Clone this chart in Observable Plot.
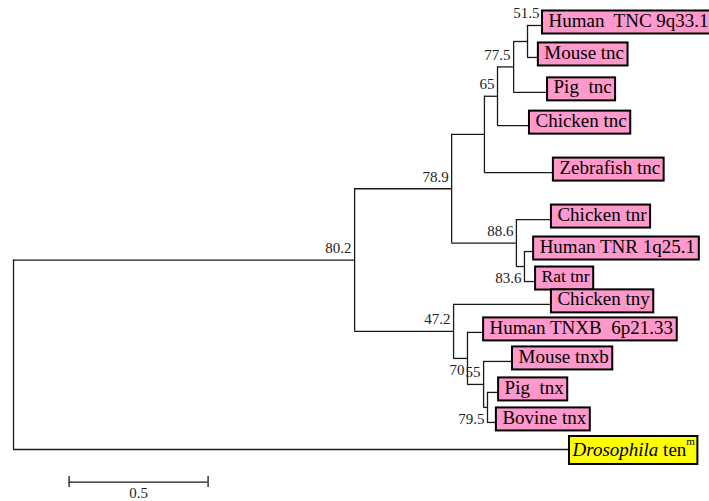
<!DOCTYPE html>
<html>
<head>
<meta charset="utf-8">
<script src="https://cdn.jsdelivr.net/npm/d3@7"></script>
<script src="https://cdn.jsdelivr.net/npm/@observablehq/plot@0.6"></script>
<style>
  html, body { margin: 0; padding: 0; background: #fff; }
  #chart svg { display: block; }
</style>
</head>
<body>
<div id="chart"></div>
<script>
// ---------- DATA ----------
// internal nodes: id, parent, distance from root (substitutions/site), bootstrap support
const nodeIds      = ["root", "n80.2", "n78.9", "nTNC", "n65", "n77.5", "n51.5", "n88.6", "n83.6", "n47.2", "n70", "n55", "n79.5"];
const nodeParents  = [null, "root", "n80.2", "n78.9", "nTNC", "n65", "n77.5", "n78.9", "n88.6", "n80.2", "n47.2", "n70", "n55"];
const nodeDepths   = [0, 1.227, 1.576, 1.694, 1.741, 1.799, 1.849, 1.809, 1.838, 1.583, 1.633, 1.691, 1.705];
const nodeSupport  = [null, "80.2", "78.9", null, "65", "77.5", "51.5", "88.6", "83.6", "47.2", "70", "55", "79.5"];

// leaves: label, parent, distance from root, row (vertical order)
const leafNames   = ["Human  TNC 9q33.1", "Mouse tnc", "Pig  tnc", "Chicken tnc", "Zebrafish tnc",
                     "Chicken tnr", "Human TNR 1q25.1", "Rat tnr", "Chicken tny", "Human TNXB  6p21.33",
                     "Mouse tnxb", "Pig  tnx", "Bovine tnx", "Drosophila"];
const leafParents = ["n51.5", "n51.5", "n77.5", "n65", "nTNC", "n88.6", "n83.6", "n83.6",
                     "n47.2", "n70", "n55", "n79.5", "n79.5", "root"];
const leafDepths  = [1.903, 1.888, 1.921, 1.856, 1.942, 1.935, 1.871, 1.878, 1.935, 1.691, 1.795, 1.745, 1.737, 2.0];
const leafRows    = [0, 0.98, 2.05, 3.07, 4.51, 5.95, 6.93, 7.85, 8.55, 9.41, 10.30, 11.25, 12.17, 13];
const outgroupSuffix = "ten";
const outgroupSup = "m";

// scale bar
const scaleBarStart = 0.2;
const scaleBarLength = 0.5;
const scaleBarLabel = "0.5";

// ---------- LAYOUT ----------
const W = 709, H = 501;
const mL = 13, mR = 1, mT = 25, mB = 52;
const xDomain = [0, 2.5], yDomain = [0, 13];
const kx = (W - mL - mR) / (xDomain[1] - xDomain[0]);
const ky = (H - mT - mB) / (yDomain[1] - yDomain[0]);
const FONT = "'Liberation Serif', 'Times New Roman', Tinos";

const ctx = document.createElement("canvas").getContext("2d");
const tw = (s, font) => { ctx.font = font; return ctx.measureText(s).width; };

const depthOf = new Map();
nodeIds.forEach((id, i) => depthOf.set(id, nodeDepths[i]));

const leaves = leafNames.map((name, i) => ({
  name, parent: leafParents[i], depth: leafDepths[i], row: leafRows[i],
  outgroup: leafParents[i] === "root",
  size: name === "Rat tnr" ? 17.5 : 19
}));

// children map
const children = new Map();
const addChild = (p, c) => { if (!children.has(p)) children.set(p, []); children.get(p).push(c); };
nodeIds.forEach((id, i) => { if (nodeParents[i]) addChild(nodeParents[i], {type: "node", id}); });
leaves.forEach(l => addChild(l.parent, {type: "leaf", leaf: l}));

const yOf = new Map();
function nodeY(id) {
  if (yOf.has(id)) return yOf.get(id);
  const ys = children.get(id).map(c => c.type === "leaf" ? c.leaf.row : nodeY(c.id));
  const y = (d3.min(ys) + d3.max(ys)) / 2;
  yOf.set(id, y);
  return y;
}
nodeIds.forEach(nodeY);

const hEdges = [], vEdges = [];
nodeIds.forEach((id, i) => {
  const ys = children.get(id).map(c => c.type === "leaf" ? c.leaf.row : yOf.get(c.id));
  vEdges.push({x: nodeDepths[i], y1: d3.min(ys), y2: d3.max(ys)});
  if (nodeParents[i]) hEdges.push({x1: depthOf.get(nodeParents[i]), x2: nodeDepths[i], y: yOf.get(id)});
});
leaves.forEach(l => hEdges.push({x1: depthOf.get(l.parent), x2: l.depth, y: l.row}));

// support labels
const placement = {"83.6": "below", "70": "below", "79.5": "below", "51.5": "top"};
const supports = [];
nodeIds.forEach((id, i) => {
  const s = nodeSupport[i];
  if (!s) return;
  const p = placement[s] || "above";
  if (p === "top") {
    const first = children.get(id).map(c => c.leaf).filter(Boolean).sort((a, b) => a.row - b.row)[0];
    supports.push({label: s, x: first.depth, y: first.row, dy: -12});
  } else {
    supports.push({label: s, x: nodeDepths[i], y: yOf.get(id), dy: p === "below" ? 12 : -12});
  }
});

// boxes
const padL = 6, padR = 4;
const supSize = 11;
const pinkLeaves = leaves.filter(l => !l.outgroup);
pinkLeaves.forEach(l => {
  l.w = tw(l.name, `${l.size}px 'Liberation Serif'`) + padL + padR;
});
const og = leaves.find(l => l.outgroup);
const ogItalicW = tw(og.name, `italic 19px 'Liberation Serif'`);
const ogSpaceW = tw(" ", `19px 'Liberation Serif'`);
const ogTenW = tw(outgroupSuffix, `19px 'Liberation Serif'`);
const ogSupW = tw(outgroupSup, `${supSize}px 'Liberation Serif'`);
og.w = 3 + ogItalicW + ogSpaceW + ogTenW + ogSupW + 3;
const ogParts = [
  {text: og.name, x: og.depth, y: og.row, dx: 3, dy: 0, size: 19, style: "italic"},
  {text: outgroupSuffix, x: og.depth, y: og.row, dx: 3 + ogItalicW + ogSpaceW, dy: 0, size: 19, style: "normal"},
  {text: outgroupSup, x: og.depth, y: og.row, dx: 3 + ogItalicW + ogSpaceW + ogTenW, dy: -8, size: supSize, style: "normal"}
];

const lineStroke = "#1a1a1a", lineW = 1.3;

const chart = Plot.plot({
  width: W, height: H,
  marginLeft: mL, marginRight: mR, marginTop: mT, marginBottom: mB,
  x: {domain: xDomain, axis: null},
  y: {domain: yDomain, reverse: true, axis: null},
  style: {background: "#fff", overflow: "visible", fontFamily: FONT},
  marks: [
    Plot.ruleY(hEdges, {x1: "x1", x2: "x2", y: "y", stroke: lineStroke, strokeWidth: lineW}),
    Plot.ruleX(vEdges, {x: "x", y1: "y1", y2: "y2", stroke: lineStroke, strokeWidth: lineW}),
    // leaf boxes
    Plot.rect(pinkLeaves, {
      x1: "depth", x2: d => d.depth + d.w / kx,
      y1: d => d.row + (-3 - 11.5) / ky, y2: d => d.row + (-3 + 11.5) / ky,
      fill: "#FF99CC", stroke: "#000", strokeWidth: 2
    }),
    Plot.rect([og], {
      x1: "depth", x2: d => d.depth + d.w / kx,
      y1: d => d.row + (1 - 14) / ky, y2: d => d.row + (1 + 14) / ky,
      fill: "#FFFF00", stroke: "#000", strokeWidth: 2
    }),
    Plot.text(pinkLeaves, {
      x: "depth", y: "row", text: "name", textAnchor: "start", dx: padL,
      dy: -5, fontSize: d => d.size, fill: "#000", fontFamily: FONT
    }),
    ...ogParts.map(p => Plot.text([p], {
      x: "x", y: "y", text: "text", textAnchor: "start", dx: p.dx, dy: p.dy,
      fontSize: p.size, fontStyle: p.style, fill: "#000", fontFamily: FONT
    })),
    // bootstrap values
    Plot.text(supports.filter(s => s.dy < 0), {
      x: "x", y: "y", text: "label", textAnchor: "end", dx: -3, dy: -12,
      fontSize: 15, fill: "#222", fontFamily: FONT
    }),
    Plot.text(supports.filter(s => s.dy > 0), {
      x: "x", y: "y", text: "label", textAnchor: "end", dx: -3, dy: 12,
      fontSize: 15, fill: "#222", fontFamily: FONT
    }),
    // scale bar
    Plot.ruleY([0], {x1: scaleBarStart, x2: scaleBarStart + scaleBarLength, y: 14, stroke: lineStroke, strokeWidth: lineW}),
    Plot.ruleX([scaleBarStart, scaleBarStart + scaleBarLength], {x: d => d, y1: 14 - 5.5 / ky, y2: 14 + 5.5 / ky, stroke: lineStroke, strokeWidth: lineW}),
    Plot.text([scaleBarLabel], {x: scaleBarStart + scaleBarLength / 2, y: 14, text: d => d, dy: 11, fontSize: 15, fill: "#222", fontFamily: FONT})
  ]
});
document.getElementById("chart").appendChild(chart);
</script>
</body>
</html>
